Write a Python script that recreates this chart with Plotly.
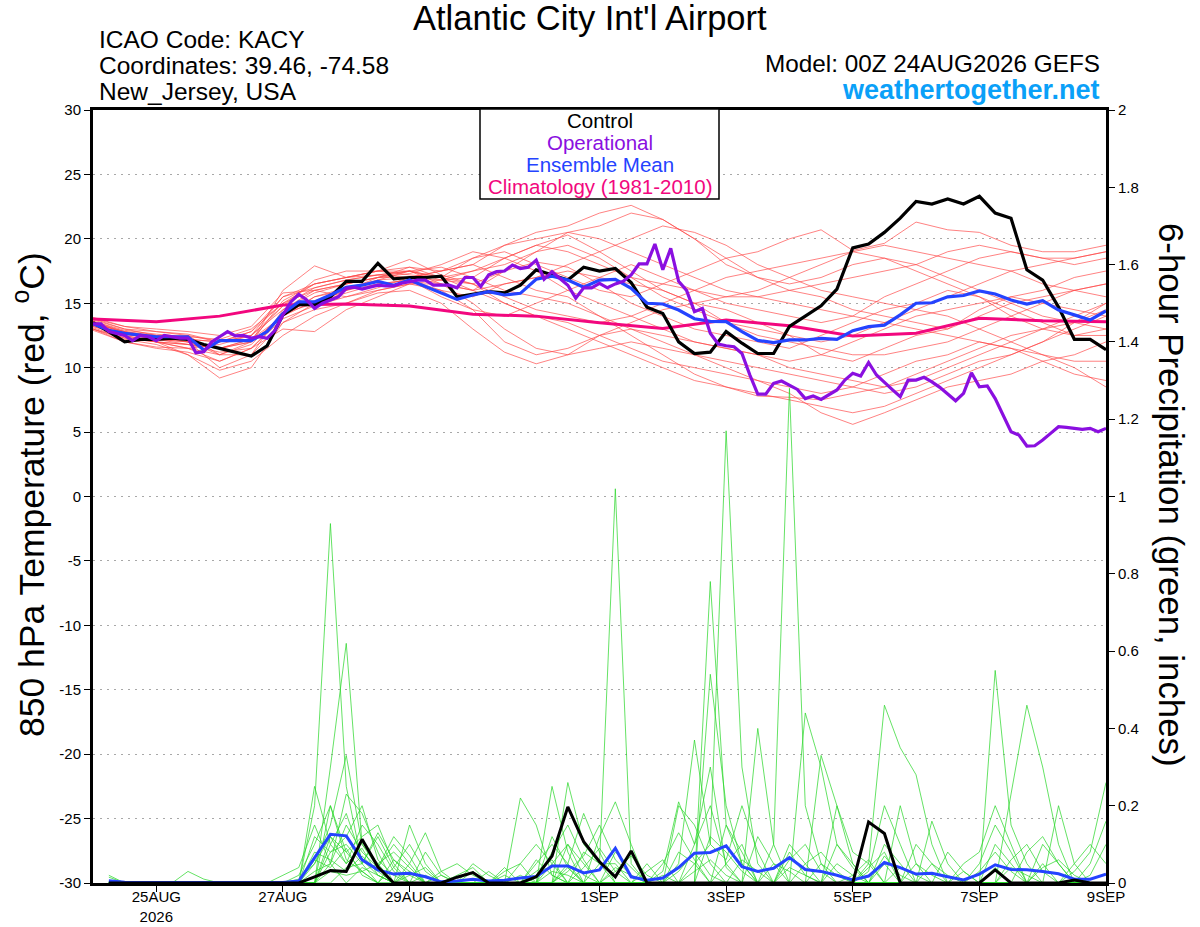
import pandas as pd
import plotly.graph_objects as go

# ---------------- data ----------------
START = "2026-08-24 00:00"

# Control (black) 850 hPa temperature, 6-hourly from 24AUG 00Z
CONTROL_T = [13.5, 12.8, 12.0, 12.2, 12.2, 12.3, 12.2, 11.8, 11.5, 11.2, 10.9, 11.7,
             14.1, 14.9, 14.9, 15.5, 16.7, 16.7, 18.1, 16.9, 17.0, 17.0, 17.1, 15.5,
             15.7, 15.9, 15.8, 16.4, 17.6, 17.2, 16.8, 17.8, 17.5, 17.7, 16.6, 14.7,
             14.2, 12.0, 11.1, 11.2, 12.8, 11.9, 11.1, 11.1, 13.2, 14.0, 14.8, 16.1,
             19.3, 19.6, 20.5, 21.6, 22.9, 22.7, 23.1, 22.7, 23.3, 22.0, 21.6, 17.6,
             16.8, 14.7, 12.2, 12.2, 11.4]

# Operational (purple), 3-hourly
OPER_T = [13.4, 13.4, 12.8, 12.66, 12.5, 12.1, 12.5, 12.4, 12.1, 12.5, 12.4, 12.3, 12.3,
          11.16, 11.24, 12.0, 12.4, 12.8, 12.46, 12.5, 12.3, 12.4, 12.28, 12.9, 14.1,
          15.1, 15.7, 15.25, 14.6, 15.0, 15.25, 15.5, 16.16, 16.24, 16.1, 16.24, 16.4,
          16.34, 16.34, 16.55, 16.7, 16.8, 16.8, 16.4, 16.4, 16.4, 16.2, 17.0, 17.0,
          16.3, 17.2, 17.45, 17.5, 17.97, 17.7, 17.8, 18.35, 16.86, 17.45, 16.9, 16.4,
          15.4, 16.2, 16.2, 16.55, 16.2, 16.5, 16.7, 17.2, 18.05, 18.05, 19.6, 17.6,
          19.26, 16.7, 16.0, 14.35, 14.6, 12.67, 11.84, 11.7, 11.63, 11.1, 9.43, 7.95,
          7.95, 8.78, 8.96, 8.65, 8.31, 7.6, 7.8, 7.54, 7.88, 8.27, 9.04, 9.56, 9.35,
          10.4, 9.43, 8.9, 8.3, 7.75, 9.04, 9.04, 9.25, 8.9, 8.47, 7.95, 7.43, 8.0,
          9.6, 8.52, 8.58, 7.6, 6.33, 5.03, 4.77, 3.92, 3.94, 4.38, 4.9, 5.42, 5.37,
          5.29, 5.21, 5.29, 5.03, 5.29]

# Ensemble mean (blue) temperature, 6-hourly
MEAN_T = [13.4, 12.9, 12.66, 12.5, 12.4, 12.4, 12.4, 11.37, 12.1, 12.1, 12.1, 12.8,
          14.2, 15.1, 15.1, 15.64, 16.24, 16.4, 16.7, 16.4, 16.8, 16.3, 15.8, 15.3,
          15.64, 15.9, 15.64, 15.77, 16.86, 17.1, 16.8, 16.24, 16.8, 16.86, 16.16, 15.0,
          14.94, 14.47, 13.8, 13.6, 13.57, 12.8, 12.12, 11.94, 12.15, 12.15, 12.28, 12.2,
          12.87, 13.18, 13.3, 14.1, 15.0, 15.04, 15.5, 15.6, 15.95, 15.72, 15.25, 14.94,
          15.2, 14.47, 14.1, 13.7, 14.4]

# Climatology 1981-2010 (magenta), daily
CLIMO_T = [13.77, 13.57, 14.0, 14.86, 14.94, 14.78, 14.14, 14.0, 13.49, 13.05, 13.7,
           13.25, 12.46, 12.67, 13.83, 13.64, 13.57]

# Ensemble members (red), 12-hourly
RED_MEMBERS = [
    [13.2, 12.5, 12.0, 11.8, 11.2, 11.5, 14.0, 15.5, 16.2, 16.8, 17.0, 16.5, 16.0, 17.5, 18.2, 17.8, 16.5, 15.0, 14.0, 13.0, 12.5, 12.0, 11.5, 12.5, 13.5, 14.5, 15.0, 16.0, 15.5, 14.0, 13.0, 12.5, 13.0],
    [13.5, 12.8, 12.5, 12.2, 12.0, 12.8, 15.5, 16.2, 16.8, 17.2, 17.5, 16.8, 17.0, 18.5, 19.5, 20.3, 19.0, 17.5, 16.0, 15.0, 14.5, 13.5, 12.5, 11.0, 10.5, 11.5, 12.5, 13.0, 14.5, 15.5, 16.0, 17.0, 17.5],
    [13.8, 13.0, 12.8, 12.5, 11.0, 12.0, 16.0, 17.9, 17.0, 17.5, 18.4, 17.2, 16.5, 15.0, 14.0, 13.5, 12.5, 11.5, 10.5, 10.0, 9.5, 9.0, 8.5, 8.0, 8.5, 9.5, 10.5, 11.0, 12.0, 11.5, 10.5, 9.5, 9.0],
    [13.0, 12.2, 11.8, 11.0, 9.2, 10.0, 13.5, 15.0, 15.8, 16.5, 16.8, 16.0, 15.5, 16.5, 17.0, 18.0, 19.0, 20.0, 21.0, 20.5, 19.5, 18.0, 17.0, 16.0, 15.5, 15.0, 14.5, 15.5, 16.5, 17.5, 18.0, 18.5, 19.0],
    [13.4, 12.6, 12.2, 12.0, 10.0, 11.0, 14.5, 16.0, 16.5, 17.0, 17.8, 17.5, 18.0, 17.0, 16.0, 15.5, 14.0, 12.5, 11.0, 9.5, 8.5, 7.8, 7.7, 7.5, 8.0, 8.5, 9.5, 10.5, 11.5, 12.5, 13.0, 13.5, 14.5],
    [13.6, 12.9, 12.6, 12.4, 12.2, 13.0, 15.0, 16.5, 17.0, 17.5, 17.5, 17.0, 18.5, 19.5, 20.5, 21.0, 22.0, 22.6, 21.5, 20.0, 18.5, 17.0, 16.0, 15.5, 14.5, 14.0, 13.5, 13.0, 14.0, 15.0, 15.5, 16.0, 16.5],
    [13.0, 12.0, 11.5, 11.2, 10.5, 11.5, 13.0, 12.8, 14.5, 15.5, 16.5, 16.0, 14.5, 12.0, 11.0, 11.5, 12.5, 13.5, 14.5, 15.0, 15.5, 16.0, 17.0, 18.0, 19.0, 19.5, 19.0, 18.5, 18.0, 17.5, 16.5, 16.0, 15.5],
    [13.3, 12.4, 12.0, 11.5, 11.8, 12.5, 14.8, 16.8, 17.5, 17.5, 17.2, 17.0, 17.5, 18.0, 19.0, 19.5, 18.5, 17.0, 15.5, 14.5, 13.5, 13.0, 12.5, 12.0, 12.5, 13.5, 14.5, 14.0, 13.0, 12.0, 11.0, 10.0, 8.5],
    [13.9, 13.2, 13.0, 12.8, 12.5, 13.2, 15.8, 16.0, 15.5, 16.2, 17.0, 17.5, 18.5, 19.0, 18.0, 17.0, 16.0, 15.5, 16.5, 17.5, 18.5, 19.0, 20.0, 20.7, 19.1, 19.65, 21.3, 20.7, 20.5, 19.5, 19.0, 19.0, 19.5],
    [13.1, 12.3, 12.0, 11.0, 9.8, 10.5, 12.5, 14.0, 15.0, 16.0, 16.5, 16.5, 15.0, 13.0, 11.5, 11.0, 11.5, 12.0, 11.5, 11.0, 10.0, 9.0, 8.0, 6.5, 5.6, 6.5, 7.5, 8.5, 9.0, 9.5, 10.5, 11.0, 12.0],
    [13.5, 12.7, 12.5, 12.0, 11.5, 12.2, 14.0, 15.2, 16.0, 16.5, 16.8, 15.5, 14.5, 14.0, 15.0, 16.0, 17.0, 18.0, 17.0, 16.0, 15.0, 14.5, 14.0, 13.5, 14.0, 15.5, 16.5, 17.5, 18.5, 19.0, 18.5, 18.0, 18.5],
    [13.7, 13.0, 12.5, 12.2, 12.0, 12.5, 14.5, 15.8, 16.5, 17.0, 17.3, 18.0, 19.0, 18.5, 17.5, 16.0, 15.0, 14.0, 13.0, 12.0, 11.5, 11.0, 10.5, 11.0, 12.0, 13.0, 14.0, 14.5, 15.0, 15.5, 15.0, 14.5, 14.0],
    [12.9, 12.0, 11.6, 11.5, 11.0, 11.0, 13.5, 14.5, 15.0, 15.8, 16.0, 15.0, 13.0, 11.2, 10.3, 11.0, 12.5, 13.0, 12.5, 12.0, 11.5, 11.0, 10.0, 9.5, 9.0, 8.5, 9.0, 10.0, 11.0, 12.0, 13.0, 14.0, 15.0],
    [13.4, 12.8, 12.2, 12.0, 11.5, 12.0, 15.2, 16.5, 17.0, 17.2, 17.5, 17.0, 16.5, 17.5, 19.0, 20.5, 21.0, 22.0, 21.5, 20.0, 18.0, 17.0, 16.5, 17.0, 18.0, 18.5, 18.0, 17.0, 16.0, 15.0, 14.0, 13.5, 13.0],
    [13.6, 12.8, 12.4, 12.0, 11.0, 11.8, 14.2, 15.0, 16.0, 17.0, 17.5, 17.8, 17.0, 16.0, 15.5, 15.0, 14.0, 13.0, 12.0, 11.0, 10.5, 10.0, 9.5, 9.0, 8.5, 8.0, 8.5, 9.5, 10.5, 11.0, 12.0, 13.0, 14.0],
    [13.2, 12.5, 12.0, 11.8, 11.5, 12.0, 14.0, 15.5, 16.0, 16.8, 17.5, 16.5, 16.0, 16.5, 17.0, 17.5, 17.0, 16.5, 16.0, 15.0, 13.5, 12.5, 12.0, 11.5, 11.0, 11.0, 11.5, 12.0, 13.0, 14.0, 15.0, 16.0, 16.5],
    [13.8, 13.2, 12.8, 12.6, 12.0, 12.8, 15.0, 16.0, 16.5, 17.0, 17.0, 17.5, 18.0, 19.5, 20.0, 20.5, 20.0, 19.0, 18.0, 17.0, 16.0, 15.5, 15.0, 14.5, 14.0, 13.5, 13.0, 12.5, 12.0, 11.5, 11.0, 10.5, 10.5],
    [13.0, 12.3, 12.0, 11.5, 10.5, 11.5, 13.8, 14.8, 15.5, 16.0, 16.5, 16.8, 16.5, 15.5, 14.5, 14.0, 13.5, 14.0, 15.0, 16.0, 17.0, 17.5, 18.0, 18.5, 19.0, 18.5, 17.5, 16.5, 15.5, 14.5, 13.5, 12.5, 12.5],
    [13.5, 12.7, 12.3, 12.5, 12.0, 12.5, 15.5, 16.5, 17.0, 17.5, 17.8, 17.0, 16.0, 15.0, 14.0, 13.0, 12.0, 11.0, 10.0, 9.0, 8.5, 8.0, 7.5, 7.0, 6.5, 7.0, 8.0, 9.0, 10.0, 11.0, 12.0, 13.5, 15.0],
    [13.3, 12.6, 12.2, 11.8, 11.5, 12.2, 14.8, 16.2, 16.8, 17.2, 17.0, 16.8, 17.5, 18.5, 19.5, 19.0, 18.0, 17.0, 16.5, 16.0, 15.5, 15.5, 16.0, 16.5, 17.0, 17.5, 18.0, 19.0, 19.5, 19.0, 18.5, 18.5, 19.0],
]

# 6-hour precipitation (inches), valid 24AUG 06Z .. 9SEP 00Z (64 steps)
CONTROL_P = [0, 0, 0, 0, 0, 0, 0, 0, 0, 0, 0, 0, 0, 0.016, 0.032, 0.03, 0.113, 0.042,
             0, 0, 0, 0, 0.015, 0.027, 0, 0, 0, 0.016, 0.07, 0.197, 0.107, 0.055, 0.016,
             0.083, 0, 0, 0, 0, 0, 0, 0, 0, 0, 0, 0, 0, 0, 0, 0.158, 0.128, 0, 0, 0,
             0, 0, 0, 0.034, 0, 0, 0, 0, 0.008, 0, 0]

MEAN_P = [0.006, 0.002, 0.001, 0.001, 0.001, 0.002, 0.001, 0.001, 0.001, 0.001, 0.001,
          0.001, 0.005, 0.064, 0.126, 0.122, 0.06, 0.034, 0.023, 0.025, 0.016, 0.003,
          0.005, 0.01, 0.005, 0.007, 0.013, 0.017, 0.044, 0.044, 0.026, 0.034, 0.09,
          0.016, 0.007, 0.013, 0.04, 0.077, 0.079, 0.096, 0.042, 0.03, 0.038, 0.066,
          0.035, 0.03, 0.02, 0.008, 0.018, 0.053, 0.04, 0.023, 0.025, 0.016, 0.008,
          0.023, 0.047, 0.035, 0.034, 0.03, 0.024, 0.01, 0.01, 0.023]

# Ensemble members (green): step index (1..64) -> 6-hour precip; unlisted steps are 0
GREEN_MEMBERS = [
    {14: 0.2, 15: 0.93, 16: 0.25, 17: 0.05, 21: 0.02, 29: 0.05, 30: 0.1, 31: 0.02, 38: 0.1, 39: 0.2, 40: 0.05, 44: 0.08, 45: 0.02, 50: 0.05, 57: 0.1, 58: 0.05},
    {15: 0.3, 16: 0.62, 17: 0.1, 18: 0.05, 20: 0.15, 21: 0.05, 27: 0.22, 28: 0.15, 29: 0.02, 32: 0.05, 33: 1.02, 34: 0.05, 40: 0.05, 41: 0.1, 52: 0.05, 53: 0.02, 60: 0.05},
    {14: 0.05, 15: 0.15, 16: 0.33, 17: 0.1, 18: 0.04, 19: 0.12, 20: 0.07, 30: 0.26, 31: 0.1, 32: 0.05, 39: 0.78, 40: 0.15, 41: 0.05, 47: 0.05, 48: 0.02, 57: 0.55, 58: 0.15, 59: 0.05},
    {13: 0.02, 14: 0.1, 15: 0.2, 16: 0.08, 17: 0.12, 18: 0.15, 19: 0.05, 29: 0.25, 30: 0.08, 35: 0.05, 37: 0.05, 38: 0.37, 39: 0.1, 40: 1.17, 41: 0.3, 42: 0.05, 50: 0.1, 51: 0.05},
    {14: 0.25, 15: 0.1, 16: 0.05, 17: 0.15, 18: 0.1, 19: 0.03, 21: 0.08, 22: 0.02, 26: 0.03, 27: 0.05, 30: 0.05, 31: 0.18, 32: 0.08, 43: 0.1, 44: 1.28, 45: 0.2, 46: 0.05, 62: 0.03, 63: 0.08, 64: 0.26},
    {15: 0.05, 16: 0.23, 17: 0.18, 18: 0.08, 20: 0.03, 24: 0.05, 25: 0.02, 32: 0.12, 33: 0.21, 34: 0.1, 36: 0.02, 42: 0.4, 43: 0.1, 49: 0.05, 50: 0.46, 51: 0.35, 52: 0.28, 53: 0.1},
    {14: 0.12, 15: 0.08, 16: 0.1, 17: 0.05, 18: 0.13, 19: 0.06, 20: 0.02, 28: 0.05, 29: 0.1, 30: 0.05, 39: 0.54, 40: 0.2, 41: 0.05, 45: 0.44, 46: 0.3, 47: 0.1, 48: 0.05, 58: 0.23, 59: 0.46, 60: 0.3, 61: 0.1},
    {15: 0.2, 16: 0.06, 17: 0.03, 18: 0.05, 19: 0.08, 20: 0.04, 24: 0.03, 26: 0.02, 30: 0.1, 31: 0.05, 37: 0.2, 38: 0.15, 39: 0.05, 46: 0.33, 47: 0.2, 48: 0.05, 55: 0.05, 56: 0.08, 57: 0.2, 58: 0.1, 61: 0.2, 62: 0.05},
    {13: 0.01, 14: 0.05, 15: 0.12, 16: 0.08, 17: 0.03, 20: 0.05, 21: 0.13, 22: 0.03, 29: 0.08, 30: 0.15, 31: 0.06, 36: 0.03, 37: 0.21, 38: 0.1, 39: 0.3, 40: 0.04, 47: 0.2, 48: 0.08, 49: 0.05, 53: 0.16, 54: 0.05, 63: 0.05, 64: 0.16},
    {15: 0.08, 16: 0.12, 17: 0.2, 18: 0.06, 19: 0.02, 27: 0.05, 28: 0.1, 29: 0.05, 33: 0.08, 34: 0.04, 38: 0.05, 39: 0.1, 40: 0.06, 41: 0.2, 42: 0.08, 44: 0.1, 45: 0.05, 51: 0.2, 52: 0.05, 60: 0.1, 61: 0.05},
    {14: 0.03, 15: 0.05, 16: 0.15, 17: 0.08, 18: 0.04, 19: 0.1, 20: 0.05, 22: 0.02, 31: 0.08, 32: 0.05, 33: 0.05, 37: 0.08, 38: 0.05, 42: 0.12, 43: 0.05, 49: 0.03, 50: 0.2, 51: 0.1, 56: 0.05, 57: 0.15, 58: 0.08},
    {16: 0.04, 17: 0.05, 18: 0.12, 19: 0.04, 20: 0.1, 21: 0.03, 30: 0.03, 31: 0.07, 32: 0.15, 33: 0.06, 34: 0.02, 39: 0.12, 40: 0.08, 41: 0.03, 47: 0.1, 48: 0.04, 54: 0.08, 55: 0.03, 59: 0.08, 60: 0.12, 61: 0.05},
    {1: 0.02, 15: 0.1, 16: 0.18, 17: 0.06, 18: 0.02, 23: 0.02, 24: 0.04, 28: 0.03, 29: 0.06, 36: 0.05, 37: 0.13, 38: 0.06, 45: 0.05, 46: 0.08, 47: 0.03, 52: 0.1, 53: 0.05, 62: 0.05, 63: 0.1, 64: 0.05},
    {1: 0.015, 6: 0.03, 7: 0.01, 14: 0.08, 15: 0.06, 16: 0.03, 17: 0.07, 18: 0.03, 29: 0.12, 30: 0.04, 35: 0.03, 36: 0.06, 40: 0.15, 41: 0.08, 49: 0.04, 50: 0.08, 56: 0.03, 57: 0.08, 58: 0.03},
    {12: 0.02, 13: 0.04, 14: 0.15, 15: 0.05, 17: 0.04, 18: 0.02, 20: 0.02, 21: 0.04, 27: 0.02, 30: 0.04, 33: 0.04, 34: 0.02, 43: 0.05, 44: 0.03, 48: 0.02, 49: 0.06, 58: 0.04, 59: 0.02, 63: 0.02, 64: 0.1},
    {15: 0.03, 16: 0.02, 17: 0.03, 19: 0.04, 26: 0.04, 29: 0.03, 30: 0.02, 38: 0.03, 39: 0.06, 40: 0.02, 44: 0.04, 45: 0.02, 51: 0.04, 52: 0.02, 55: 0.03, 57: 0.04},
    {14: 0.06, 15: 0.04, 16: 0.09, 17: 0.02, 19: 0.06, 20: 0.03, 25: 0.03, 28: 0.06, 29: 0.02, 33: 0.03, 34: 0.07, 35: 0.02, 41: 0.06, 42: 0.03, 46: 0.05, 47: 0.02, 53: 0.05, 54: 0.02, 60: 0.04, 61: 0.06, 62: 0.02},
    {15: 0.12, 16: 0.05, 17: 0.09, 18: 0.02, 22: 0.03, 23: 0.05, 24: 0.02, 31: 0.04, 32: 0.09, 33: 0.03, 37: 0.03, 38: 0.08, 39: 0.02, 44: 0.06, 45: 0.1, 46: 0.03, 50: 0.07, 51: 0.02, 58: 0.06, 59: 0.1, 60: 0.03},
]

X_TICK_VALS = ["2026-08-25", "2026-08-27", "2026-08-29", "2026-09-01",
               "2026-09-03", "2026-09-05", "2026-09-07", "2026-09-09"]
X_TICK_TEXT = ["25AUG<br>2026", "27AUG", "29AUG", "1SEP", "3SEP", "5SEP", "7SEP", "9SEP"]
T_TICK_VALS = [-30, -25, -20, -15, -10, -5, 0, 5, 10, 15, 20, 25, 30]
T_TICK_TEXT = ["-30", "-25", "-20", "-15", "-10", "-5", "0", "5", "10", "15", "20", "25", "30"]
P_TICK_VALS = [0, 0.2, 0.4, 0.6, 0.8, 1.0, 1.2, 1.4, 1.6, 1.8, 2.0]
P_TICK_TEXT = ["0", "0.2", "0.4", "0.6", "0.8", "1", "1.2", "1.4", "1.6", "1.8", "2"]

# ---------------- time axes ----------------
t0 = pd.Timestamp(START)
t6 = [t0 + pd.Timedelta(hours=6 * i) for i in range(len(CONTROL_T))]
t3 = [t0 + pd.Timedelta(hours=3 * j) for j in range(len(OPER_T))]
t12 = [t0 + pd.Timedelta(hours=12 * k) for k in range(len(RED_MEMBERS[0]))]
t24 = [t0 + pd.Timedelta(days=d) for d in range(len(CLIMO_T))]
tp = [t0 + pd.Timedelta(hours=6 * i) for i in range(1, len(CONTROL_P) + 1)]

FONT = "Liberation Sans, Arial, Helvetica, sans-serif"
PURPLE = "#8a0fe0"
BLUE = "#2443ff"
MAGENTA = "#f2077e"

fig = go.Figure()

for m in RED_MEMBERS:
    fig.add_trace(go.Scatter(x=t12, y=m, mode="lines", yaxis="y",
                             line=dict(color="rgba(255,70,70,0.85)", width=0.8),
                             hoverinfo="skip", showlegend=False))

for g in GREEN_MEMBERS:
    vals = [g.get(i, 0.0) for i in range(1, len(CONTROL_P) + 1)]
    fig.add_trace(go.Scatter(x=tp, y=vals, mode="lines", yaxis="y2",
                             line=dict(color="rgba(40,215,40,0.9)", width=0.8),
                             hoverinfo="skip", showlegend=False))

fig.add_trace(go.Scatter(x=tp, y=MEAN_P, mode="lines", yaxis="y2",
                         line=dict(color=BLUE, width=3), showlegend=False))
fig.add_trace(go.Scatter(x=tp, y=CONTROL_P, mode="lines", yaxis="y2",
                         line=dict(color="black", width=3), showlegend=False))

fig.add_trace(go.Scatter(x=t24, y=CLIMO_T, mode="lines", yaxis="y",
                         line=dict(color=MAGENTA, width=3), showlegend=False))
fig.add_trace(go.Scatter(x=t6, y=CONTROL_T, mode="lines", yaxis="y",
                         line=dict(color="black", width=3.2), showlegend=False))
fig.add_trace(go.Scatter(x=t6, y=MEAN_T, mode="lines", yaxis="y",
                         line=dict(color=BLUE, width=3.2), showlegend=False))
fig.add_trace(go.Scatter(x=t3, y=OPER_T, mode="lines", yaxis="y",
                         line=dict(color=PURPLE, width=3.2), showlegend=False))

# Plot box in window pixels; the page margin is removed below (post_script)
PL, PR, PT, PB = 93, 1106, 110, 883
W, H = 1200, 927
PW, PH = PR - PL, PB - PT


def px(x):
    return (x - PL) / PW


def py(y):
    return (PB - y) / PH


annotations = [
    dict(text="Atlantic City Int'l Airport", x=px(590), y=py(18), xanchor="center", yanchor="middle",
         font=dict(size=34.5, color="black")),
    dict(text="ICAO Code: KACY", x=px(97), y=py(40), xanchor="left", yanchor="middle",
         font=dict(size=24.5, color="black")),
    dict(text="Coordinates: 39.46, -74.58", x=px(97), y=py(66), xanchor="left", yanchor="middle",
         font=dict(size=24.5, color="black")),
    dict(text="New_Jersey, USA", x=px(97), y=py(92), xanchor="left", yanchor="middle",
         font=dict(size=24.5, color="black")),
    dict(text="Model: 00Z 24AUG2026 GEFS", x=px(1102), y=py(63), xanchor="right", yanchor="middle",
         font=dict(size=24.3, color="black")),
    dict(text="<b>weathertogether.net</b>", x=px(1102), y=py(90), xanchor="right", yanchor="middle",
         font=dict(size=27, color="#0aa0f8")),
    dict(text="Control", x=px(600), y=py(121), xanchor="center", yanchor="middle",
         font=dict(size=20.5, color="black")),
    dict(text="Operational", x=px(600), y=py(142), xanchor="center", yanchor="middle",
         font=dict(size=20.5, color=PURPLE)),
    dict(text="Ensemble Mean", x=px(600), y=py(164), xanchor="center", yanchor="middle",
         font=dict(size=20.5, color=BLUE)),
    dict(text="Climatology (1981-2010)", x=px(600), y=py(186), xanchor="center", yanchor="middle",
         font=dict(size=20.5, color=MAGENTA)),
    dict(text="850 hPa Temperature (red, <sup>o</sup>C)", x=px(29), y=py(495), textangle=-90,
         xanchor="center", yanchor="middle", font=dict(size=35.5, color="black")),
    dict(text="6-hour Precipitation (green, inches)", x=px(1172), y=py(495), textangle=90,
         xanchor="center", yanchor="middle", font=dict(size=34.8, color="black")),
]
for a in annotations:
    a.update(xref="paper", yref="paper", showarrow=False)

shapes = [
    dict(type="rect", xref="paper", yref="paper", x0=px(480), x1=px(719), y0=py(199), y1=py(109),
         line=dict(color="black", width=1.5), fillcolor="white", layer="above"),
]

fig.update_layout(
    width=W, height=H,
    margin=dict(l=PL, r=W - PR, t=PT, b=H - PB, autoexpand=False),
    paper_bgcolor="white", plot_bgcolor="white",
    font=dict(family=FONT, color="black"),
    showlegend=False,
    annotations=annotations,
    shapes=shapes,
    xaxis=dict(
        type="date", range=[t6[0], t6[-1]], automargin=False,
        tickvals=X_TICK_VALS, ticktext=X_TICK_TEXT,
        ticks="outside", ticklen=6, tickwidth=1, tickcolor="black",
        tickfont=dict(size=15), ticklabelstandoff=-8,
        showgrid=False, zeroline=False,
        showline=True, linecolor="black", linewidth=3, mirror=True,
    ),
    yaxis=dict(
        range=[-30, 30], tickvals=T_TICK_VALS, ticktext=T_TICK_TEXT, automargin=False,
        ticks="outside", ticklen=6, tickwidth=1, tickcolor="black",
        tickfont=dict(size=15),
        showgrid=True, gridcolor="#a8a8a8", gridwidth=1, griddash="2px,5px",
        zeroline=False,
        showline=True, linecolor="black", linewidth=3,
    ),
    yaxis2=dict(
        range=[0, 2], tickvals=P_TICK_VALS, ticktext=P_TICK_TEXT, automargin=False,
        overlaying="y", side="right",
        ticks="outside", ticklen=6, tickwidth=1, tickcolor="black",
        tickfont=dict(size=15),
        showgrid=False, zeroline=False,
        showline=True, linecolor="black", linewidth=3,
    ),
)

fig.write_html("out.html",
               config={"displayModeBar": False},
               post_script="document.body.style.margin='0';document.body.style.overflow='hidden';")
